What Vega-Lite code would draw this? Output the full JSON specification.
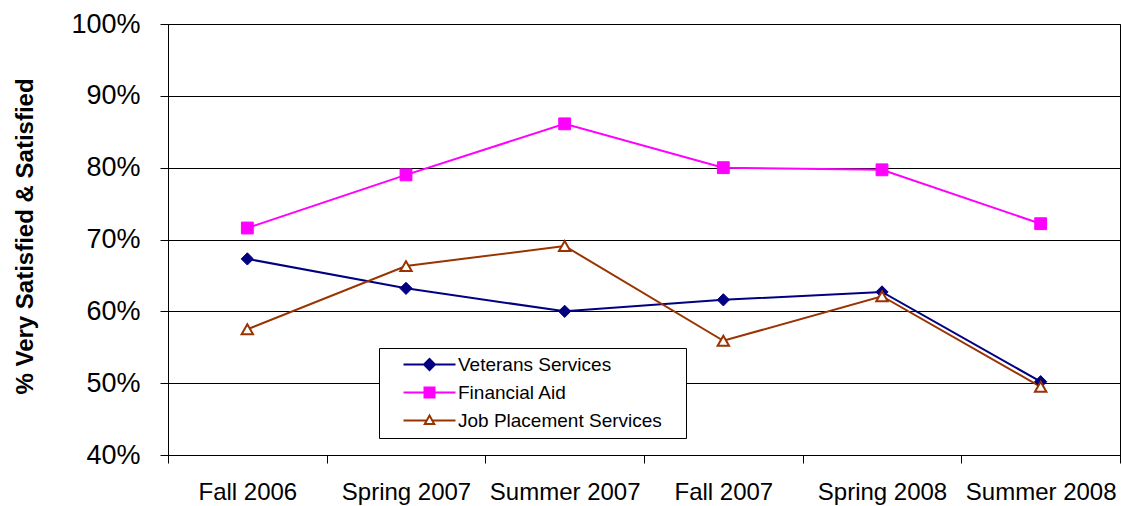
{
  "$schema": "https://vega.github.io/schema/vega-lite/v6.json",
  "width": 952,
  "height": 431,
  "autosize": {"type": "none"},
  "padding": {"left": 168, "top": 24, "right": 2, "bottom": 51},
  "background": "white",
  "config": {
    "font": "Liberation Sans",
    "view": {"stroke": "#000000", "strokeWidth": 1}
  },
  "data": {
    "values": [
      {"period": "Fall 2006", "series": "Veterans Services", "value": 0.673},
      {"period": "Spring 2007", "series": "Veterans Services", "value": 0.632},
      {"period": "Summer 2007", "series": "Veterans Services", "value": 0.600},
      {"period": "Fall 2007", "series": "Veterans Services", "value": 0.616},
      {"period": "Spring 2008", "series": "Veterans Services", "value": 0.627},
      {"period": "Summer 2008", "series": "Veterans Services", "value": 0.502},
      {"period": "Fall 2006", "series": "Financial Aid", "value": 0.716},
      {"period": "Spring 2007", "series": "Financial Aid", "value": 0.790},
      {"period": "Summer 2007", "series": "Financial Aid", "value": 0.861},
      {"period": "Fall 2007", "series": "Financial Aid", "value": 0.800},
      {"period": "Spring 2008", "series": "Financial Aid", "value": 0.797},
      {"period": "Summer 2008", "series": "Financial Aid", "value": 0.722},
      {"period": "Fall 2006", "series": "Job Placement Services", "value": 0.575},
      {"period": "Spring 2007", "series": "Job Placement Services", "value": 0.663},
      {"period": "Summer 2007", "series": "Job Placement Services", "value": 0.691},
      {"period": "Fall 2007", "series": "Job Placement Services", "value": 0.559},
      {"period": "Spring 2008", "series": "Job Placement Services", "value": 0.621},
      {"period": "Summer 2008", "series": "Job Placement Services", "value": 0.495}
    ]
  },
  "encoding": {
    "x": {
      "field": "period",
      "type": "nominal",
      "sort": ["Fall 2006", "Spring 2007", "Summer 2007", "Fall 2007", "Spring 2008", "Summer 2008"],
      "scale": {"type": "band", "paddingInner": 0, "paddingOuter": 0},
      "axis": {
        "title": null,
        "labelAngle": 0,
        "labelFontSize": 24,
        "labelColor": "#000000",
        "labelPadding": 17,
        "tickBand": "extent",
        "tickSize": 8,
        "tickColor": "#000000",
        "domainColor": "#000000",
        "grid": false
      }
    },
    "y": {
      "field": "value",
      "type": "quantitative",
      "scale": {"domain": [0.4, 1.0], "nice": false, "zero": false},
      "axis": {
        "values": [0.4, 0.5, 0.6, 0.7, 0.8, 0.9, 1.0],
        "format": ".0%",
        "labelFontSize": 27,
        "labelColor": "#000000",
        "labelPadding": 20,
        "tickSize": 8,
        "tickColor": "#000000",
        "domainColor": "#000000",
        "gridColor": "#000000",
        "gridOpacity": 1,
        "title": "% Very Satisfied & Satisfied",
        "titleFontSize": 24,
        "titleFontWeight": "bold",
        "titleColor": "#000000",
        "titleX": -143,
        "titleY": 212,
        "titleBaseline": "middle"
      }
    }
  },
  "layer": [
    {
      "mark": {"type": "line", "strokeWidth": 2},
      "encoding": {
        "color": {
          "field": "series",
          "type": "nominal",
          "scale": {
            "domain": ["Veterans Services", "Financial Aid", "Job Placement Services"],
            "range": ["#000080", "#FF00FF", "#993300"]
          },
          "legend": {
            "title": null,
            "orient": "none",
            "legendX": 211,
            "legendY": 324,
            "fillColor": "#FFFFFF",
            "strokeColor": "#000000",
            "padding": 7,
            "labelFontSize": 19,
            "labelColor": "#000000",
            "labelLimit": 400,
            "labelOffset": 53,
            "rowPadding": 8,
            "symbolSize": 100,
            "symbolStrokeWidth": 2,
            "encode": {
              "symbols": {
                "update": {
                  "shape": {"signal": "datum.value === 'Veterans Services' ? 'M1.6,0H12M6.8,-1.1L7.9,0L6.8,1.1L5.7,0ZM55.8,0' : datum.value === 'Financial Aid' ? 'M1.6,0H12M5.8,-1H7.8V1H5.8ZM55.8,0' : 'M1.6,0H6.2M7.4,0H12M6.8,-1L7.75,0.7L5.85,0.7ZM55.8,0'"},
                  "fill": {"signal": "datum.value === 'Veterans Services' ? '#000080' : datum.value === 'Financial Aid' ? '#FF00FF' : '#FFFFFF'"},
                  "size": {"value": 100},
                  "strokeWidth": {"value": 2},
                  "opacity": {"value": 1}
                }
              }
            }
          }
        }
      }
    },
    {
      "transform": [{"filter": "datum.series === 'Veterans Services'"}],
      "mark": {"type": "point", "shape": "diamond", "filled": true, "opacity": 1, "fill": "#000080", "stroke": "#000080", "strokeWidth": 1, "size": 150}
    },
    {
      "transform": [{"filter": "datum.series === 'Financial Aid'"}],
      "mark": {"type": "point", "shape": "square", "filled": true, "opacity": 1, "fill": "#FF00FF", "stroke": "#FF00FF", "strokeWidth": 1, "size": 140}
    },
    {
      "transform": [{"filter": "datum.series === 'Job Placement Services'"}],
      "mark": {"type": "point", "shape": "triangle-up", "filled": true, "opacity": 1, "fill": "#FFFFFF", "stroke": "#993300", "strokeWidth": 2, "size": 130}
    }
  ]
}
